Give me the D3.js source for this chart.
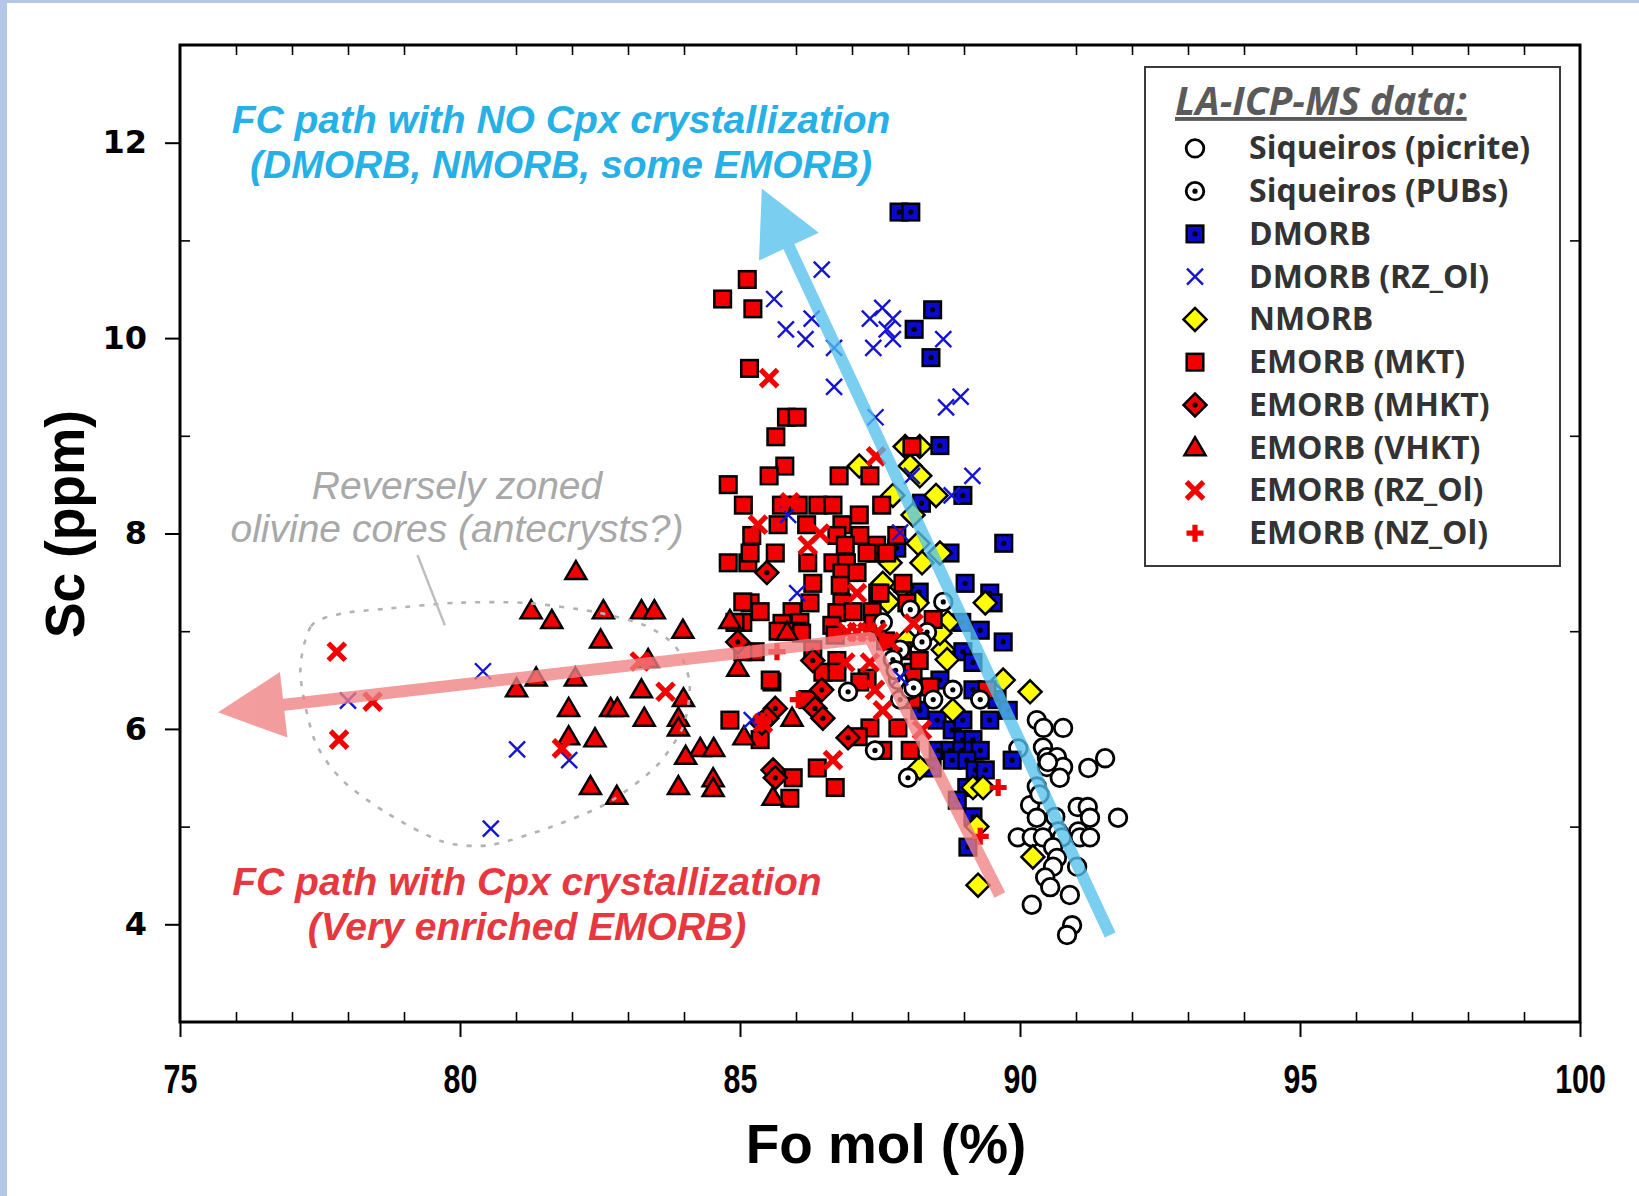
<!DOCTYPE html>
<html>
<head>
<meta charset="utf-8">
<script src="https://cdn.jsdelivr.net/npm/d3@7"></script>
<style>
  html, body { margin: 0; padding: 0; background: #fff; }
  svg { display: block; }
</style>
</head>
<body>
<div id="chart"></div>
<script>
// ---- data: [Fo mol %, Sc ppm] ----
const siqueirosPicrite = [[90.30,6.09],[90.42,6.01],[90.77,6.01],[89.97,5.80],[90.41,5.81],[90.48,5.71],[90.66,5.71],[90.48,5.61],[90.77,5.61],[91.22,5.60],[91.52,5.70],[90.30,5.41],[90.71,5.50],[90.18,5.22],[91.03,5.20],[91.21,5.20],[90.35,5.33],[90.30,5.09],[90.63,5.10],[90.68,4.95],[90.75,4.89],[91.25,5.09],[91.04,4.95],[91.07,4.89],[91.25,4.89],[91.75,5.09],[89.96,4.89],[90.21,4.89],[90.41,4.89],[90.59,4.79],[90.66,4.68],[90.59,4.59],[90.45,4.48],[90.54,4.38],[91.02,4.59],[90.89,4.30],[90.21,4.20],[90.93,3.99],[90.84,3.89],[90.50,5.66]];
const siqueirosPUBs = [[88.63,7.30],[88.04,7.22],[87.55,7.09],[88.34,6.99],[88.25,6.89],[87.86,6.81],[87.73,6.71],[87.82,6.50],[87.86,6.30],[88.04,6.40],[88.45,6.30],[88.80,6.40],[89.29,6.30],[86.93,6.38],[87.41,5.78],[88.00,5.50],[87.78,6.60],[88.10,6.42]];
const dmorb = [[87.84,11.29],[88.05,11.29],[88.44,10.29],[88.11,10.09],[88.41,9.80],[88.57,8.90],[88.98,8.39],[88.24,8.31],[89.71,7.90],[88.75,7.80],[89.02,7.49],[89.46,7.39],[89.52,7.29],[89.29,7.01],[88.96,7.09],[89.70,6.89],[88.98,6.79],[89.16,6.68],[88.57,6.50],[89.16,6.40],[89.59,6.30],[89.79,6.19],[89.46,6.09],[88.52,6.09],[88.21,6.19],[88.79,5.99],[88.98,6.09],[88.98,5.89],[89.16,5.89],[88.54,5.78],[88.75,5.78],[88.96,5.78],[89.16,5.78],[89.29,5.78],[88.79,5.68],[89.05,5.68],[89.20,5.58],[89.38,5.58],[89.86,5.68],[89.05,5.40],[88.88,5.27],[88.43,5.60],[89.16,5.10],[89.07,4.79],[88.20,7.40],[87.80,7.85]];
const dmorbRZ = [[86.46,10.70],[85.61,10.40],[86.28,10.20],[85.82,10.09],[86.17,9.99],[86.68,9.90],[87.54,10.31],[87.32,10.20],[87.73,10.20],[87.62,10.09],[87.73,9.99],[87.38,9.90],[88.63,9.99],[86.68,9.50],[87.42,9.19],[88.68,9.29],[88.94,9.40],[89.15,8.59],[88.07,8.59],[88.78,8.39],[85.86,8.19],[87.86,8.01],[86.02,7.39],[85.21,6.09],[87.86,6.53],[80.41,6.59],[78.00,6.29],[81.02,5.79],[81.95,5.68],[80.55,4.98]];
const nmorb = [[87.13,8.69],[87.95,8.89],[88.21,8.89],[88.04,8.69],[88.21,8.59],[87.73,8.39],[88.50,8.39],[88.09,8.19],[88.18,7.90],[88.57,7.80],[87.68,7.70],[88.25,7.70],[89.38,7.29],[87.55,7.49],[87.64,7.30],[87.89,7.45],[88.16,7.29],[88.71,7.09],[87.98,6.91],[88.63,6.81],[88.70,6.71],[88.57,6.98],[89.70,6.50],[90.18,6.38],[88.80,6.19],[88.21,5.60],[89.16,5.40],[89.34,5.40],[89.23,5.00],[90.23,4.69],[89.25,4.40]];
const emorbMKT = [[85.13,10.60],[84.69,10.40],[85.23,10.30],[85.17,9.69],[85.83,9.19],[86.02,9.19],[85.64,8.99],[85.80,8.69],[85.52,8.59],[84.79,8.50],[86.77,8.59],[87.32,8.59],[88.07,8.89],[85.06,8.29],[85.74,8.29],[86.04,8.29],[86.39,8.29],[86.66,8.29],[87.13,8.19],[87.53,8.29],[85.68,8.09],[86.19,8.09],[86.82,8.09],[85.21,7.98],[86.73,7.98],[87.14,7.98],[85.63,7.80],[84.79,7.70],[85.14,7.70],[86.21,7.70],[86.66,7.70],[86.90,7.70],[87.41,7.80],[87.80,7.98],[86.88,7.88],[87.44,7.88],[85.18,7.80],[87.27,7.80],[87.62,7.80],[86.30,7.49],[86.82,7.60],[87.09,7.60],[86.79,7.47],[87.46,7.39],[87.91,7.49],[85.18,7.29],[85.36,7.20],[86.25,7.29],[86.82,7.29],[86.73,7.19],[87.02,7.20],[87.36,7.20],[85.93,7.20],[86.07,7.09],[86.64,7.06],[85.75,7.08],[85.05,7.09],[85.68,7.00],[86.02,7.00],[86.10,6.98],[86.70,6.96],[87.38,7.08],[85.27,6.79],[85.05,6.79],[86.30,6.81],[86.48,6.58],[86.73,6.70],[86.73,6.58],[87.27,6.52],[87.14,6.48],[85.57,6.48],[88.09,6.58],[84.82,6.09],[85.36,5.89],[87.32,6.01],[87.82,6.01],[88.04,5.78],[87.55,5.78],[86.38,5.60],[86.70,5.40],[85.95,5.50],[85.89,5.29],[87.11,5.92],[86.21,6.30],[85.54,6.50],[85.05,7.30],[84.91,7.09],[88.45,7.12],[87.98,7.29],[87.50,7.39],[88.07,6.30],[88.39,6.43],[89.41,6.40],[87.60,6.90],[87.90,6.80],[88.20,6.70]];
const emorbMHKT = [[84.96,6.89],[86.30,6.70],[86.46,6.40],[86.34,6.21],[86.48,6.11],[85.63,6.21],[85.48,6.11],[86.93,5.91],[85.59,5.58],[85.63,5.50],[85.48,7.60],[85.39,6.06]];
const emorbVHKT = [[82.07,7.61],[81.27,7.21],[81.64,7.11],[82.56,7.21],[83.24,7.21],[83.47,7.21],[83.98,7.01],[82.51,6.91],[83.36,6.71],[81.36,6.52],[82.06,6.52],[81.01,6.41],[83.24,6.40],[83.99,6.31],[81.94,6.21],[82.69,6.21],[82.81,6.21],[83.29,6.11],[83.90,6.11],[83.90,6.01],[81.94,5.92],[82.41,5.90],[84.29,5.80],[84.53,5.80],[84.03,5.72],[84.52,5.49],[84.52,5.39],[82.33,5.41],[82.80,5.31],[83.90,5.41],[84.82,7.11],[84.96,6.62],[85.84,6.99],[85.93,6.11],[85.07,5.92],[85.59,5.30]];
const emorbRZ = [[77.80,6.79],[78.44,6.28],[77.84,5.89],[83.21,6.69],[83.67,6.38],[81.82,5.80],[85.52,9.59],[87.43,8.79],[85.32,8.09],[85.89,8.32],[86.21,7.88],[86.43,8.00],[87.09,7.39],[86.91,6.99],[87.09,6.99],[87.27,6.99],[87.45,6.99],[88.10,7.08],[86.88,6.68],[87.32,6.68],[87.41,6.40],[87.55,6.19],[86.66,5.68],[85.41,6.06],[87.68,6.89],[88.25,5.99]];
const emorbNZ = [[85.66,6.79],[86.04,6.30],[85.41,6.08],[89.61,5.40],[89.29,4.90]];

// axis ticks
const xMajor = [75, 80, 85, 90, 95, 100];
const xMinor = d3.range(76, 100).filter(v => v % 5 !== 0);
const yMajor = [4, 6, 8, 10, 12];
const yMinor = [5, 7, 9, 11];

// annotation paths (data units)
const blueArrow = [[91.61, 3.89], [85.39, 11.53]];
const redArrow = [[89.64, 4.30], [87.32, 6.93], [75.68, 6.17]];
const antecrystOutline = [[77.15,6.57],[77.34,7.05],[77.89,7.18],[78.69,7.23],[79.92,7.29],[81.15,7.29],[82.38,7.20],[83.30,7.06],[83.85,6.84],[84.10,6.47],[83.98,6.02],[83.49,5.61],[82.63,5.24],[81.64,5.00],[80.53,4.81],[79.67,4.85],[78.69,5.14],[77.89,5.48],[77.40,5.89]];
const leader = [[79.24, 7.78], [79.73, 7.06]];

// series definition (legend order)
const series = [
  { name: "Siqueiros (picrite)", shape: "circle", fill: "#ffffff", dot: false, data: siqueirosPicrite },
  { name: "Siqueiros (PUBs)", shape: "circle", fill: "#ffffff", dot: true, data: siqueirosPUBs },
  { name: "DMORB", shape: "square", fill: "#0a0acc", dot: true, data: dmorb },
  { name: "DMORB (RZ_Ol)", shape: "xthin", fill: "#1414d2", data: dmorbRZ },
  { name: "NMORB", shape: "diamond", fill: "#ffff00", dot: false, data: nmorb },
  { name: "EMORB (MKT)", shape: "square", fill: "#f20000", dot: false, data: emorbMKT },
  { name: "EMORB (MHKT)", shape: "diamond", fill: "#f20000", dot: true, data: emorbMHKT },
  { name: "EMORB (VHKT)", shape: "triangle", fill: "#f20000", dot: false, data: emorbVHKT },
  { name: "EMORB (RZ_Ol)", shape: "xthick", fill: "#f20000", data: emorbRZ },
  { name: "EMORB (NZ_Ol)", shape: "plus", fill: "#f20000", data: emorbNZ }
];
const drawOrder = ["Siqueiros (picrite)", "DMORB", "NMORB", "EMORB (MKT)", "EMORB (MHKT)", "EMORB (VHKT)",
                   "Siqueiros (PUBs)", "DMORB (RZ_Ol)", "EMORB (RZ_Ol)", "EMORB (NZ_Ol)"];

const width = 1639, height = 1196;
const plot = { left: 180, right: 1580, top: 45, bottom: 1022 };

const svg = d3.select("#chart").append("svg")
  .attr("width", width).attr("height", height);

svg.append("rect").attr("width", width).attr("height", height).attr("fill", "#fff");
// thin blue page border
svg.append("rect").attr("x", 0).attr("y", 0).attr("width", 7).attr("height", height).attr("fill", "#b4c7e7");
svg.append("rect").attr("x", 0).attr("y", 0).attr("width", width).attr("height", 3).attr("fill", "#b4c7e7");

const x = d3.scaleLinear().domain([75, 100]).range([plot.left, plot.right]);
const y = d3.scaleLinear().domain([3, 13]).range([plot.bottom, plot.top]);

// ---- axes ----
const gx = svg.append("g").attr("transform", `translate(0,${plot.bottom})`)
  .call(d3.axisBottom(x).tickValues(xMajor).tickSize(15).tickPadding(0));
gx.select(".domain").remove();
gx.selectAll("line").attr("stroke", "#000").attr("stroke-width", 2);
gx.selectAll("text")
  .attr("y", 0).attr("dy", null)
  .attr("transform", "translate(0,71) scale(0.76,1)")
  .style("font-family", "'Liberation Sans', Arial, sans-serif")
  .style("font-weight", "bold").style("font-size", "40px").attr("fill", "#000");

svg.append("g").attr("transform", `translate(0,${plot.bottom})`)
  .call(d3.axisBottom(x).tickValues(xMinor).tickSize(-10).tickFormat(""))
  .call(g => g.select(".domain").remove())
  .selectAll("line").attr("stroke", "#000").attr("stroke-width", 1.6);

svg.append("g").attr("transform", `translate(0,${plot.top})`)
  .call(d3.axisTop(x).tickValues(xMinor).tickSize(-10).tickFormat(""))
  .call(g => g.select(".domain").remove())
  .selectAll("line").attr("stroke", "#000").attr("stroke-width", 1.6);

const gy = svg.append("g").attr("transform", `translate(${plot.left},0)`)
  .call(d3.axisLeft(y).tickValues(yMajor).tickSize(15).tickPadding(18));
gy.select(".domain").remove();
gy.selectAll("line").attr("stroke", "#000").attr("stroke-width", 2);
gy.selectAll("text")
  .style("font-family", "'DejaVu Sans', sans-serif")
  .style("font-weight", "bold").style("font-size", "32px").attr("fill", "#000");

svg.append("g").attr("transform", `translate(${plot.left},0)`)
  .call(d3.axisLeft(y).tickValues(yMinor).tickSize(-10).tickFormat(""))
  .call(g => g.select(".domain").remove())
  .selectAll("line").attr("stroke", "#000").attr("stroke-width", 1.6);

svg.append("g").attr("transform", `translate(${plot.right},0)`)
  .call(d3.axisRight(y).tickValues(yMinor).tickSize(-10).tickFormat(""))
  .call(g => g.select(".domain").remove())
  .selectAll("line").attr("stroke", "#000").attr("stroke-width", 1.6);

// frame
svg.append("rect")
  .attr("x", plot.left).attr("y", plot.top)
  .attr("width", plot.right - plot.left).attr("height", plot.bottom - plot.top)
  .attr("fill", "none").attr("stroke", "#000").attr("stroke-width", 3);

// axis titles
svg.append("text")
  .attr("transform", `translate(${(plot.left + plot.right) / 2 + 6},1163) scale(0.98,1)`)
  .attr("text-anchor", "middle")
  .style("font-family", "'Liberation Sans', Arial, sans-serif")
  .style("font-weight", "bold").style("font-size", "56px")
  .text("Fo mol (%)");

svg.append("text")
  .attr("transform", "translate(84,524) rotate(-90) scale(0.97,1)")
  .attr("text-anchor", "middle")
  .style("font-family", "'Liberation Sans', Arial, sans-serif")
  .style("font-weight", "bold").style("font-size", "55px")
  .text("Sc (ppm)");

// ---- markers ----
function drawMarker(g, s) {
  const c = s.fill;
  if (s.shape === "circle") {
    g.append("circle").attr("r", 8.8).attr("fill", s.fill).attr("stroke", "#000").attr("stroke-width", 2.8);
  } else if (s.shape === "square") {
    g.append("rect").attr("x", -8.3).attr("y", -8.3).attr("width", 16.6).attr("height", 16.6)
      .attr("fill", s.fill).attr("stroke", "#000").attr("stroke-width", 2.5);
  } else if (s.shape === "diamond") {
    g.append("path").attr("d", "M0,-11.5L11.5,0L0,11.5L-11.5,0Z")
      .attr("fill", s.fill).attr("stroke", "#000").attr("stroke-width", 2.5);
  } else if (s.shape === "triangle") {
    g.append("path").attr("d", "M0,-10.5L10.5,7.5L-10.5,7.5Z")
      .attr("fill", s.fill).attr("stroke", "#000").attr("stroke-width", 2.5);
  } else if (s.shape === "xthin") {
    g.append("path").attr("d", "M-8,-8L8,8M-8,8L8,-8")
      .attr("stroke", c).attr("stroke-width", 2.4).attr("fill", "none");
  } else if (s.shape === "xthick") {
    g.append("path").attr("d", "M-8.5,-8.5L8.5,8.5M-8.5,8.5L8.5,-8.5")
      .attr("stroke", c).attr("stroke-width", 5.2).attr("fill", "none");
  } else if (s.shape === "plus") {
    g.append("path").attr("d", "M-8.5,0L8.5,0M0,-8.5L0,8.5")
      .attr("stroke", c).attr("stroke-width", 5.2).attr("fill", "none");
  }
  if (s.dot) {
    g.append("circle").attr("r", 2.6).attr("fill", "#000");
  }
}

const gPts = svg.append("g");
drawOrder.forEach(name => {
  const s = series.find(d => d.name === name);
  gPts.append("g").selectAll("g")
    .data(s.data)
    .enter()
    .append("g")
    .attr("transform", d => `translate(${x(d[0])},${y(d[1])})`)
    .each(function() { drawMarker(d3.select(this), s); });
});

// ---- annotations ----
// dotted outline of reversely zoned cores
svg.append("path")
  .attr("d", d3.line().x(d => x(d[0])).y(d => y(d[1])).curve(d3.curveCardinalClosed.tension(0.2))(antecrystOutline))
  .attr("fill", "none").attr("stroke", "#b3b3b3").attr("stroke-width", 2.6)
  .attr("stroke-dasharray", "5,9");

svg.append("path")
  .attr("d", d3.line().x(d => x(d[0])).y(d => y(d[1]))(leader))
  .attr("stroke", "#bdbdbd").attr("stroke-width", 2.4).attr("fill", "none");

function drawArrow(points, color, lineW, headLen, headHalf) {
  const p = points.map(d => [x(d[0]), y(d[1])]);
  const tip = p[p.length - 1], prev = p[p.length - 2];
  const dx = tip[0] - prev[0], dy = tip[1] - prev[1];
  const len = Math.hypot(dx, dy);
  const ux = dx / len, uy = dy / len;
  const base = [tip[0] - ux * headLen, tip[1] - uy * headLen];
  const shaft = p.slice(0, -1).concat([[base[0] + ux * 4, base[1] + uy * 4]]);
  const g = svg.append("g").attr("opacity", 0.78);
  g.append("path")
    .attr("d", d3.line()(shaft))
    .attr("fill", "none").attr("stroke", color).attr("stroke-width", lineW)
    .attr("stroke-linejoin", "round");
  g.append("path")
    .attr("d", d3.line()([tip, [base[0] - uy * headHalf, base[1] + ux * headHalf], [base[0] + uy * headHalf, base[1] - ux * headHalf]]) + "Z")
    .attr("fill", color);
}
drawArrow(blueArrow, "#55c1ec", 12, 64, 33);
drawArrow(redArrow, "#ef8184", 12, 66, 33);

const annoFont = "'Liberation Sans', Arial, sans-serif";
function annoText(lines, cx, ys, color, weight, size) {
  lines.forEach((t, i) => {
    svg.append("text")
      .attr("x", cx).attr("y", ys[i])
      .attr("text-anchor", "middle")
      .style("font-family", annoFont).style("font-style", "italic")
      .style("font-weight", weight).style("font-size", size + "px")
      .attr("fill", color)
      .text(t);
  });
}
annoText(["FC path with NO Cpx crystallization", "(DMORB, NMORB, some EMORB)"], 561, [133, 178], "#27b0e6", "bold", 39);
annoText(["FC path with Cpx crystallization", "(Very enriched EMORB)"], 527, [895, 940], "#e8383f", "bold", 39);
annoText(["Reversely zoned", "olivine cores (antecrysts?)"], 457, [499, 542], "#a8a8a8", "normal", 39);

// ---- legend ----
const legend = svg.append("g");
legend.append("rect")
  .attr("x", 1145).attr("y", 67).attr("width", 415).attr("height", 499)
  .attr("fill", "#fff").attr("stroke", "#3a3a3a").attr("stroke-width", 2);

legend.append("text")
  .attr("x", 1175).attr("y", 115)
  .style("font-family", "'Open Sans', Lato, sans-serif")
  .style("font-style", "italic").style("font-weight", "bold").style("font-size", "39px")
  .style("text-decoration", "underline")
  .attr("fill", "#5a5a5a")
  .text("LA-ICP-MS data:");

series.forEach((s, i) => {
  const row = legend.append("g").attr("transform", `translate(1195,${148.4 + i * 42.75})`);
  drawMarker(row.append("g"), s);
  row.append("text")
    .attr("x", 54).attr("y", 11)
    .style("font-family", "'Open Sans', Lato, sans-serif")
    .style("font-weight", "bold").style("font-size", "32px")
    .attr("fill", "#333")
    .text(s.name);
});
</script>
</body>
</html>
